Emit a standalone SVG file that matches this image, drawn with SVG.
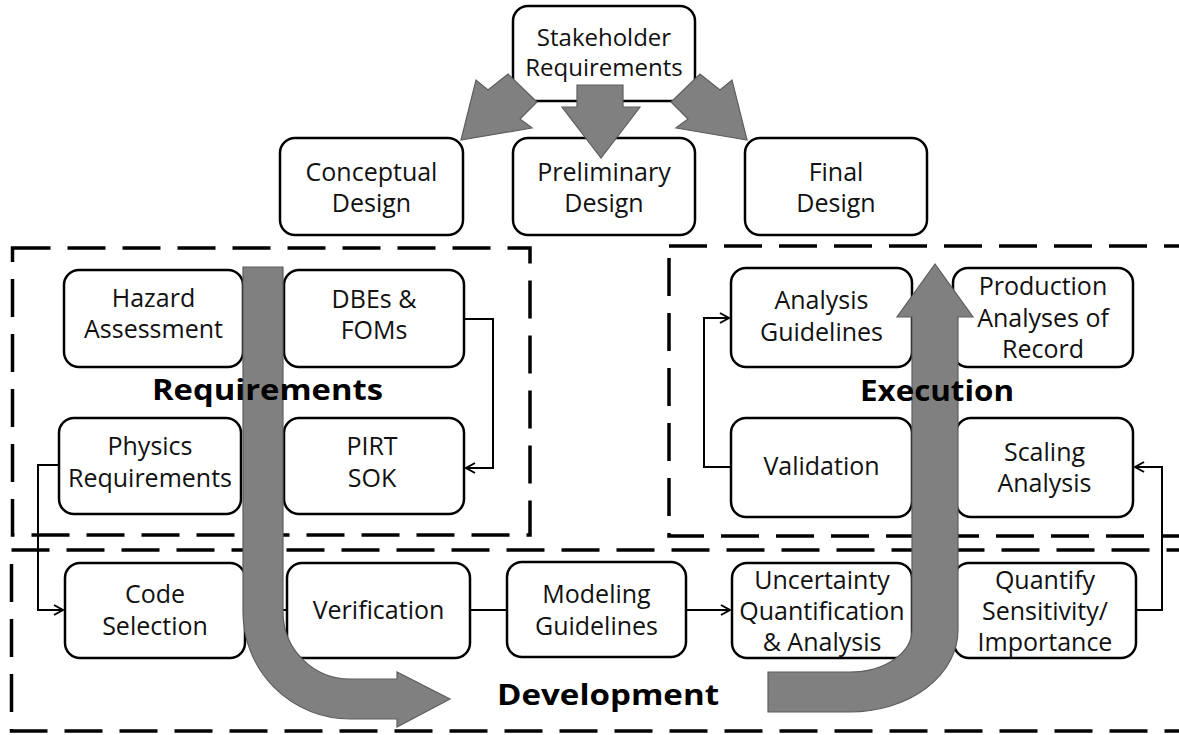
<svg xmlns="http://www.w3.org/2000/svg" width="1179" height="735" viewBox="0 0 1179 735">
<style>
.bg{fill:#ffffff}
.zone{fill:none;stroke:#000;stroke-width:3.5;stroke-dasharray:38 17}
.node rect{fill:#fff;stroke:#000;stroke-width:2.5}
.node text{font-family:"Open Sans","Liberation Sans",sans-serif;font-size:25px;fill:#111;text-anchor:middle}
.conn{fill:none;stroke:#000;stroke-width:2}
.big{fill:#808080;stroke:#5e5e5e;stroke-width:1.2}
.lbl{font-family:"Open Sans","Liberation Sans",sans-serif;font-weight:bold;font-size:29px;fill:#000;text-anchor:middle}
</style>
<defs>
<marker id="ah" markerWidth="12" markerHeight="12" refX="10" refY="6" orient="auto" markerUnits="userSpaceOnUse">
<path d="M1,1 L10,6 L1,11" fill="none" stroke="#000" stroke-width="2"/>
</marker>
</defs>
<rect class="bg" x="0" y="0" width="1179" height="735"/>

<g id="zones">
<rect class="zone" x="12.5" y="248" width="517.5" height="287"/>
<rect class="zone" x="669" y="246" width="560" height="290"/>
<rect class="zone" x="11.5" y="550" width="1220" height="181"/>
</g>

<g id="connectors">
<polyline class="conn" points="464,319 493,319 493,468 466,468" marker-end="url(#ah)"/>
<polyline class="conn" points="59,465 38,465 38,610 63,610" marker-end="url(#ah)"/>
<line class="conn" x1="245" y1="610" x2="287" y2="610"/>
<line class="conn" x1="470" y1="610" x2="507" y2="610"/>
<line class="conn" x1="686" y1="610" x2="730" y2="610" marker-end="url(#ah)"/>
<polyline class="conn" points="1136,610 1162,610 1162,467 1135,467" marker-end="url(#ah)"/>
<polyline class="conn" points="731,467 704,467 704,318 729,318" marker-end="url(#ah)"/>
</g>

<g id="n-stakeholder" class="node"><rect x="513" y="6" width="182" height="95" rx="15"/><text x="604" y="46" style="font-size:24px"><tspan x="604">Stakeholder</tspan><tspan x="604" dy="30">Requirements</tspan></text></g>
<g id="n-conceptual" class="node"><rect x="280" y="138" width="183" height="97" rx="15"/><text x="371.5" y="181"><tspan x="371.5">Conceptual</tspan><tspan x="371.5" dy="31">Design</tspan></text></g>
<g id="n-preliminary" class="node"><rect x="513" y="138" width="182" height="97" rx="15"/><text x="604" y="181"><tspan x="604">Preliminary</tspan><tspan x="604" dy="31">Design</tspan></text></g>
<g id="n-final" class="node"><rect x="745" y="138" width="182" height="97" rx="15"/><text x="836" y="181"><tspan x="836">Final</tspan><tspan x="836" dy="31">Design</tspan></text></g>

<g id="n-hazard" class="node"><rect x="64" y="270" width="179" height="97" rx="15"/><text x="153.5" y="307"><tspan x="153.5">Hazard</tspan><tspan x="153.5" dy="31">Assessment</tspan></text></g>
<g id="n-dbes" class="node"><rect x="284" y="270" width="180" height="97" rx="15"/><text x="374" y="308"><tspan x="374">DBEs &amp;</tspan><tspan x="374" dy="31">FOMs</tspan></text></g>
<g id="n-physics" class="node"><rect x="59" y="418" width="182" height="96" rx="15"/><text x="150" y="455"><tspan x="150">Physics</tspan><tspan x="150" dy="32">Requirements</tspan></text></g>
<g id="n-pirt" class="node"><rect x="284" y="418" width="180" height="96" rx="15"/><text x="372" y="455"><tspan x="372">PIRT</tspan><tspan x="372" dy="32">SOK</tspan></text></g>

<g id="n-analysis" class="node"><rect x="731" y="268" width="181" height="99" rx="15"/><text x="821.5" y="309"><tspan x="821.5">Analysis</tspan><tspan x="821.5" dy="32">Guidelines</tspan></text></g>
<g id="n-production" class="node"><rect x="953" y="268" width="180" height="99" rx="15"/><text x="1043" y="295"><tspan x="1043">Production</tspan><tspan x="1043" dy="32">Analyses of</tspan><tspan x="1043" dy="31">Record</tspan></text></g>
<g id="n-validation" class="node"><rect x="731" y="418" width="181" height="99" rx="15"/><text x="821.5" y="475">Validation</text></g>
<g id="n-scaling" class="node"><rect x="956" y="418" width="177" height="99" rx="15"/><text x="1044.5" y="461"><tspan x="1044.5">Scaling</tspan><tspan x="1044.5" dy="31">Analysis</tspan></text></g>

<g id="n-code" class="node"><rect x="65" y="563" width="180" height="95" rx="15"/><text x="155" y="603"><tspan x="155">Code</tspan><tspan x="155" dy="32">Selection</tspan></text></g>
<g id="n-verification" class="node"><rect x="287" y="563" width="183" height="95" rx="15"/><text x="378.5" y="619">Verification</text></g>
<g id="n-modeling" class="node"><rect x="507" y="562" width="179" height="95" rx="15"/><text x="596.5" y="603"><tspan x="596.5">Modeling</tspan><tspan x="596.5" dy="32">Guidelines</tspan></text></g>
<g id="n-uncertainty" class="node"><rect x="732" y="563" width="180" height="95" rx="15"/><text x="822" y="589"><tspan x="822">Uncertainty</tspan><tspan x="822" dy="31">Quantification</tspan><tspan x="822" dy="31">&amp; Analysis</tspan></text></g>
<g id="n-quantify" class="node"><rect x="954" y="563" width="182" height="95" rx="15"/><text x="1045" y="589"><tspan x="1045">Quantify</tspan><tspan x="1045" dy="31">Sensitivity/</tspan><tspan x="1045" dy="31">Importance</tspan></text></g>

<g id="flow-arrows">
<polygon class="big" points="461,140 476,80 488,90 508,74 537,102 520,119 532,128"/>
<polygon class="big" points="747,140 732,80 720,90 700,74 671,102 688,119 676,128"/>
<polygon class="big" points="577,85 623,85 623,107 640,107 601,158 562,107 577,107"/>
<path class="big" d="M243 267 L283 267 L283 612 A67 67 0 0 0 350 679 L397 679 L397 672 L450 699 L397 727 L397 719 L350 719 A107 107 0 0 1 243 612 Z"/>
<path class="big" d="M768 672 L850 672 A62 42 0 0 0 912 630 L912 317 L897 317 L935 264 L973 317 L958 317 L958 630 A108 82 0 0 1 850 712 L768 712 Z"/>
</g>

<g id="zone-labels">
<text class="lbl" x="267.5" y="400" textLength="231" lengthAdjust="spacingAndGlyphs">Requirements</text>
<text class="lbl" x="937" y="401" textLength="154" lengthAdjust="spacingAndGlyphs">Execution</text>
<text class="lbl" x="608" y="705" textLength="222" lengthAdjust="spacingAndGlyphs">Development</text>
</g>
</svg>
